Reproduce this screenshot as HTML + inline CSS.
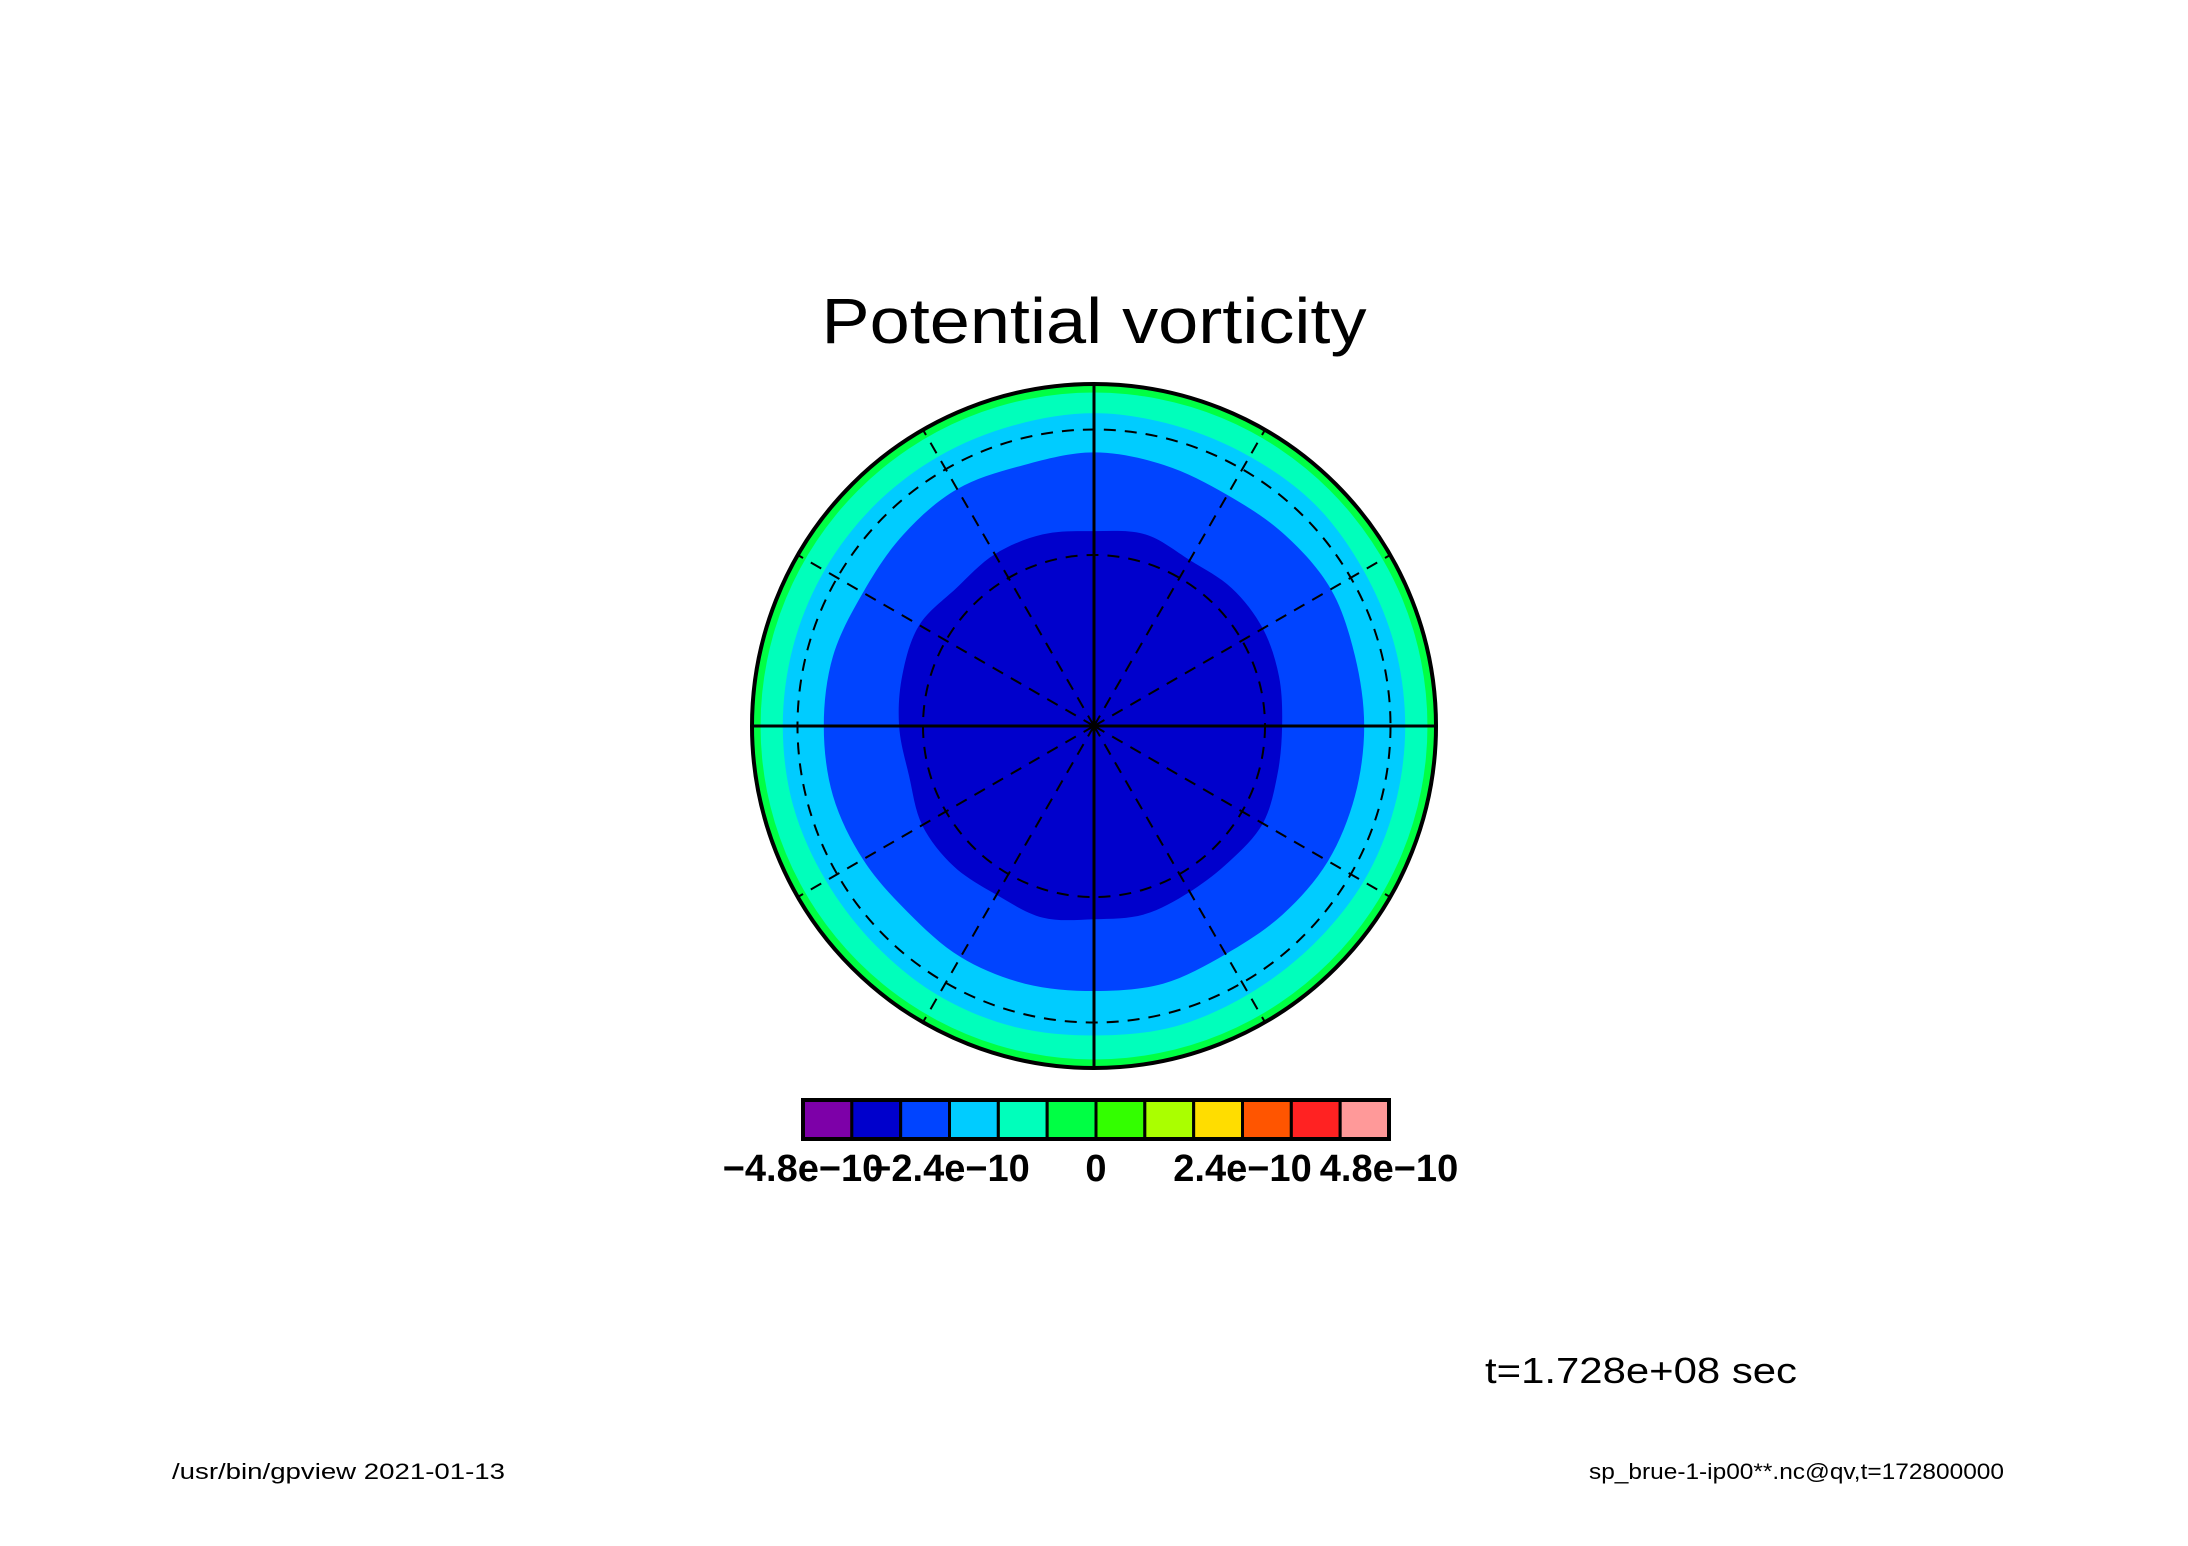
<!DOCTYPE html>
<html><head><meta charset="utf-8"><style>
html,body{margin:0;padding:0;background:#fff;}
svg{display:block;}
text{font-family:"Liberation Sans","DejaVu Sans",sans-serif;}
</style></head><body>
<svg id="chart" width="2188" height="1546" viewBox="0 0 2188 1546" xmlns="http://www.w3.org/2000/svg">
<rect x="0" y="0" width="2188" height="1546" fill="#fff"/>
<text x="1094" y="343" font-size="64" text-anchor="middle" textLength="545" lengthAdjust="spacingAndGlyphs" fill="#000">Potential vorticity</text>
<g id="map"></g>
<g id="cbar"></g>
<text x="1485" y="1383" font-size="36" textLength="312" lengthAdjust="spacingAndGlyphs" fill="#000">t=1.728e+08 sec</text>
<text x="172" y="1479" font-size="22" textLength="333" lengthAdjust="spacingAndGlyphs" fill="#000">/usr/bin/gpview  2021-01-13</text>
<text x="2004" y="1479" font-size="22" text-anchor="end" textLength="415" lengthAdjust="spacingAndGlyphs" fill="#000">sp_brue-1-ip00**.nc@qv,t=172800000</text>
</svg>
<script>
// contour boundary radii (fraction of map radius) at 24 angles, starting east, counter-clockwise
const darkBlueRadii = [0.55,0.56,0.57,0.57,0.56,0.58,0.57,0.58,0.58,0.57,0.59,0.58,0.57,0.56,0.58,0.58,0.57,0.58,0.565,0.57,0.56,0.56,0.57,0.555];
const blueRadii = [0.79,0.79,0.80,0.79,0.78,0.79,0.80,0.79,0.80,0.79,0.78,0.79,0.79,0.79,0.78,0.77,0.78,0.78,0.775,0.78,0.77,0.78,0.79,0.79];
const cyanRadii = [0.91,0.91,0.91,0.915,0.91,0.91,0.915,0.91,0.91,0.91,0.91,0.91,0.91,0.91,0.905,0.905,0.91,0.91,0.905,0.91,0.905,0.905,0.91,0.91];
const aquaRadius = [0.975];
const dashedCircles = [0.5, 0.867];
const meridianAngles = [0,30,60,90,120,150,180,210,240,270,300,330];
// colorbar
const levelColors = ["#7d00a8","#0000cc","#0044ff","#00ccff","#00ffbb","#00ff44","#33ff00","#aaff00","#ffdd00","#ff5500","#ff2222","#ff9999"];
const levelMin = -4.8e-10, levelStep = 0.8e-10;
const tickValues = [-4.8e-10,-2.4e-10,0,2.4e-10,4.8e-10];
const tickLabels = ["\u22124.8e\u221210","\u22122.4e\u221210","0","2.4e\u221210","4.8e\u221210"];

const NS="http://www.w3.org/2000/svg";
const cx=1094, cy=726, R=342;
const map=document.getElementById('map');
function mk(tag,attrs,parent){const e=document.createElementNS(NS,tag);for(const k in attrs)e.setAttribute(k,attrs[k]);parent.appendChild(e);return e;}
function px(a,r){return [cx+R*r*Math.cos(a*Math.PI/180), cy-R*r*Math.sin(a*Math.PI/180)];}
function polyPath(radii){
  const n=radii.length;const pts=[];
  for(let i=0;i<n;i++){pts.push(px(i*360/n,radii[i]));}
  let d='M'+pts[0][0].toFixed(1)+','+pts[0][1].toFixed(1);
  for(let i=0;i<n;i++){
    const p0=pts[(i-1+n)%n],p1=pts[i],p2=pts[(i+1)%n],p3=pts[(i+2)%n];
    const c1=[p1[0]+(p2[0]-p0[0])/6,p1[1]+(p2[1]-p0[1])/6];
    const c2=[p2[0]-(p3[0]-p1[0])/6,p2[1]-(p3[1]-p1[1])/6];
    d+='C'+c1[0].toFixed(1)+','+c1[1].toFixed(1)+' '+c2[0].toFixed(1)+','+c2[1].toFixed(1)+' '+p2[0].toFixed(1)+','+p2[1].toFixed(1);
  }
  return d+'Z';
}
let e;
e=mk('circle',{cx:cx,cy:cy,r:R,fill:'#00ff44'},map);


e=mk('circle',{cx:cx,cy:cy,r:R*aquaRadius[0],fill:'#00ffbb'},map);


e=mk('path',{d:polyPath(cyanRadii),fill:'#00ccff'},map);


e=mk('path',{d:polyPath(blueRadii),fill:'#0044ff'},map);


e=mk('path',{d:polyPath(darkBlueRadii),fill:'#0000cc'},map);


dashedCircles.forEach(f=>{
  e=mk('circle',{cx:cx,cy:cy,r:R*f,fill:'none',stroke:'#000','stroke-width':2,'stroke-dasharray':'12 9'},map);
  
  
});
meridianAngles.forEach(a=>{
  const p=px(a,1);const solid=(a%90===0);
  e=mk('line',{x1:cx,y1:cy,x2:p[0],y2:p[1],stroke:'#000','stroke-width':solid?3:2,'stroke-dasharray':solid?'none':'12 9'},map);
  
  
});
e=mk('circle',{cx:cx,cy:cy,r:R,fill:'none',stroke:'#000','stroke-width':4},map);



// colorbar
const cb=document.getElementById('cbar');
const bx=803,by=1100,bw=586,bh=39;
const nLev=levelColors.length;
function cbX(v){return bx+(v-levelMin)/(levelStep*nLev)*bw;}
levelColors.forEach((c,i)=>{
  const x0=cbX(levelMin+i*levelStep),x1=cbX(levelMin+(i+1)*levelStep);
  e=mk('rect',{x:x0,y:by,width:x1-x0,height:bh,fill:c,stroke:'#000','stroke-width':3},cb);
  
  
});
e=mk('rect',{x:bx,y:by,width:bw,height:bh,fill:'none',stroke:'#000','stroke-width':4},cb);


tickValues.forEach((v,i)=>{
  const t=mk('text',{x:cbX(v),y:1181,'font-size':38,'font-weight':'bold','text-anchor':'middle',fill:'#000'},cb);
  t.textContent=tickLabels[i];
  
  
});
</script>
</body></html>
